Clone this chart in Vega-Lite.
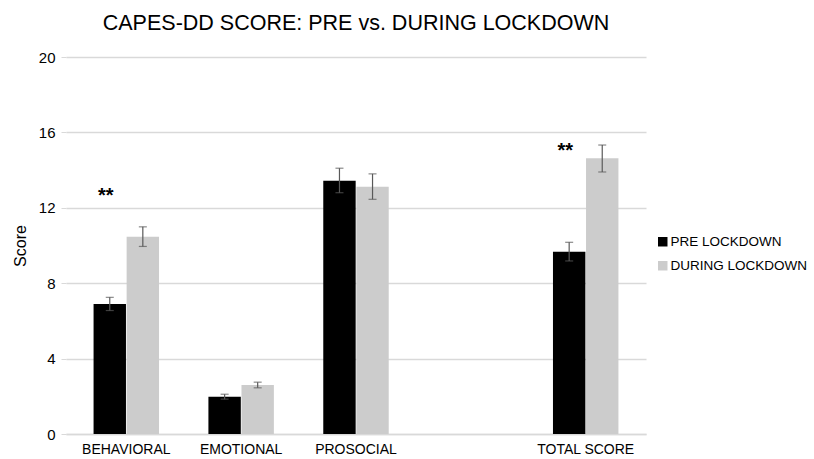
{
  "$schema": "https://vega.github.io/schema/vega-lite/v6.json",
  "width": 580,
  "height": 377,
  "autosize": {"type": "none"},
  "padding": {"left": 66, "top": 57, "right": 168, "bottom": 25},
  "background": "white",
  "config": {
    "font": "Liberation Sans",
    "view": {"stroke": null}
  },
  "title": {
    "text": "CAPES-DD SCORE: PRE vs. DURING LOCKDOWN",
    "fontSize": 21.5,
    "fontWeight": "normal",
    "color": "#000000",
    "anchor": "middle",
    "offset": 16
  },
  "datasets": {
    "scores": [
      {"cat": "BEHAVIORAL", "group": "PRE LOCKDOWN", "mean": 6.9, "lo": 6.55, "hi": 7.25},
      {"cat": "BEHAVIORAL", "group": "DURING LOCKDOWN", "mean": 10.47, "lo": 9.95, "hi": 10.99},
      {"cat": "EMOTIONAL", "group": "PRE LOCKDOWN", "mean": 1.98, "lo": 1.85, "hi": 2.11},
      {"cat": "EMOTIONAL", "group": "DURING LOCKDOWN", "mean": 2.6, "lo": 2.45, "hi": 2.75},
      {"cat": "PROSOCIAL", "group": "PRE LOCKDOWN", "mean": 13.44, "lo": 12.8, "hi": 14.1},
      {"cat": "PROSOCIAL", "group": "DURING LOCKDOWN", "mean": 13.12, "lo": 12.45, "hi": 13.8},
      {"cat": "TOTAL SCORE", "group": "PRE LOCKDOWN", "mean": 9.67, "lo": 9.18, "hi": 10.17},
      {"cat": "TOTAL SCORE", "group": "DURING LOCKDOWN", "mean": 14.63, "lo": 13.9, "hi": 15.33}
    ],
    "stars": [
      {"cat": "BEHAVIORAL", "group": "PRE LOCKDOWN", "y": 12.6, "label": "**"},
      {"cat": "TOTAL SCORE", "group": "PRE LOCKDOWN", "y": 15.0, "label": "**"}
    ]
  },
  "encoding": {
    "x": {
      "field": "cat",
      "type": "nominal",
      "scale": {"domain": ["BEHAVIORAL", "EMOTIONAL", "PROSOCIAL", " ", "TOTAL SCORE"], "paddingInner": 0.43, "paddingOuter": 0.24},
      "axis": {
        "title": null,
        "labelAngle": 0,
        "labelFontSize": 14,
        "labelColor": "#000000",
        "labelPadding": 8,
        "domainColor": "#d9d9d9",
        "domainWidth": 1.5,
        "ticks": false
      }
    },
    "xOffset": {
      "field": "group",
      "type": "nominal",
      "scale": {"domain": ["PRE LOCKDOWN", "DURING LOCKDOWN"], "paddingInner": 0.02}
    }
  },
  "layer": [
    {
      "data": {"name": "scores"},
      "mark": {"type": "bar"},
      "encoding": {
        "y": {
          "field": "mean",
          "type": "quantitative",
          "scale": {"domain": [0, 20]},
          "axis": {
            "title": "Score",
            "titleFontSize": 16,
            "titleFontWeight": "normal",
            "titleColor": "#000000",
            "titlePadding": 10,
            "values": [0, 4, 8, 12, 16, 20],
            "labelFontSize": 15,
            "labelColor": "#000000",
            "labelPadding": 6,
            "domain": false,
            "tickSize": 5,
            "tickColor": "#d9d9d9",
            "gridColor": "#d9d9d9",
            "gridWidth": 1.5
          }
        },
        "color": {
          "field": "group",
          "type": "nominal",
          "scale": {"domain": ["PRE LOCKDOWN", "DURING LOCKDOWN"], "range": ["#000000", "#cccccc"]},
          "legend": {
            "title": null,
            "orient": "none",
            "legendX": 590,
            "legendY": 178,
            "symbolType": "square",
            "symbolSize": 90,
            "symbolStrokeWidth": 0,
            "labelFontSize": 13.5,
            "labelColor": "#000000",
            "labelOffset": 1,
            "labelLimit": 200,
            "rowPadding": 9
          }
        }
      }
    },
    {
      "data": {"name": "scores"},
      "mark": {"type": "rule", "color": "#595959", "strokeWidth": 1.2},
      "encoding": {
        "y": {"field": "lo", "type": "quantitative"},
        "y2": {"field": "hi"}
      }
    },
    {
      "data": {"name": "scores"},
      "mark": {"type": "tick", "orient": "horizontal", "color": "#595959", "size": 8, "thickness": 1.2},
      "encoding": {
        "y": {"field": "lo", "type": "quantitative"}
      }
    },
    {
      "data": {"name": "scores"},
      "mark": {"type": "tick", "orient": "horizontal", "color": "#595959", "size": 8, "thickness": 1.2},
      "encoding": {
        "y": {"field": "hi", "type": "quantitative"}
      }
    },
    {
      "data": {"name": "stars"},
      "mark": {"type": "text", "fontSize": 20, "fontWeight": "bold", "color": "#000000", "dx": -4, "baseline": "middle"},
      "encoding": {
        "y": {"field": "y", "type": "quantitative"},
        "text": {"field": "label"}
      }
    }
  ]
}
